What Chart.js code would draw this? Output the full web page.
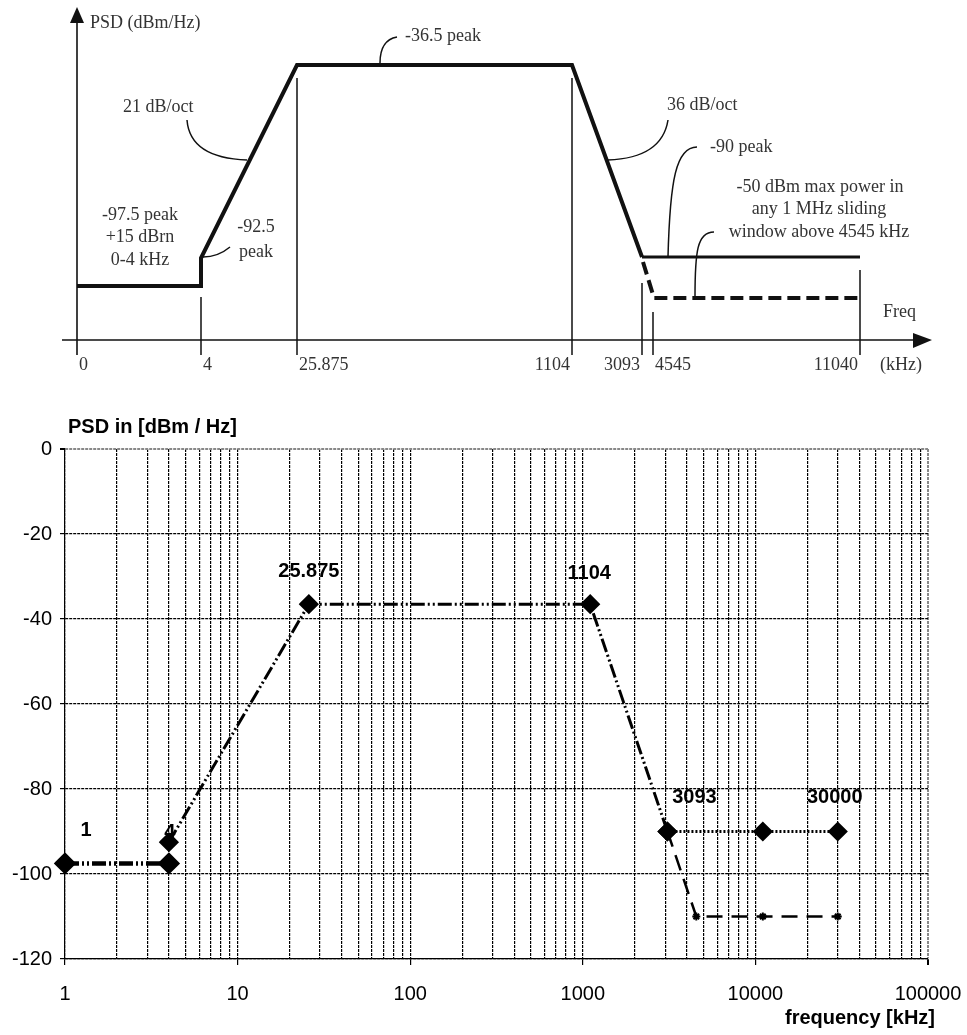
<!DOCTYPE html>
<html lang="en">
<head>
<meta charset="UTF-8">
<title>ADSL PSD mask</title>
<script src="https://cdn.jsdelivr.net/npm/chart.js"></script>
<style>
    body { margin: 0; background: #fff; }
    #sketch { position: absolute; left: 0; top: 0; }
    #psd { position: absolute; left: 0; top: 395px; }
</style>
</head>
<body>
<canvas id="sketch" width="967" height="390"></canvas>
<canvas id="psd" width="967" height="640"></canvas>
<script>
// upper sketch: schematic positions (not to scale)
const sketchTickLabels = ['0', '4', '25.875', '1104', '3093', '4545', '11040'];
const sketchTickPos = [0, 124, 220, 495, 565, 576, 783];
const sketchMaskX = [0, 124, 124, 220, 495, 565];
const sketchMaskY = [54, 54, 82, 275, 275, 83];
const sketchFlatX = [565, 783];
const sketchFlatY = [83, 83];
const sketchDashX = [566, 577, 783];
const sketchDashY = [78, 42, 42];
const sketchGuideX = [124, 220, 495, 565, 576, 783];
const sketchGuideTop = [43, 262, 262, 57, 28, 70];

// lower chart: frequency in kHz, PSD in dBm/Hz
const voiceX = [1, 4];
const voiceY = [-97.5, -97.5];
const bandX = [4, 25.875, 1104, 3093];
const bandY = [-92.5, -36.5, -36.5, -90];
const peakX = [3093, 11040, 30000];
const peakY = [-90, -90, -90];
const windowX = [3093, 4545, 11040, 30000];
const windowY = [-90, -110, -110, -110];
const labelText = ['1', '4', '25.875', '1104', '3093', '30000'];
const labelX = [1, 4, 25.875, 1104, 3093, 30000];
const labelY = [-97.5, -92.5, -36.5, -36.5, -90, -90];
const xTickLabels = [1, 10, 100, 1000, 10000, 100000];

// pixel nudges for the point labels
const labelShift = [[21, -33], [1, -10], [0, -33], [-1, -31], [27, -34], [-3, -34]];

function pts(xs, ys) {
    return xs.map((x, i) => ({ x: x, y: ys[i] }));
}

// ---------- upper sketch ----------
const guidePts = [];
sketchGuideX.forEach((x, i) => {
    guidePts.push({ x: x, y: sketchGuideTop[i] }, { x: x, y: -15 }, { x: x, y: null });
});

const serif = '18px "Liberation Serif", "DejaVu Serif", serif';

const sketchDecor = {
    id: 'sketchDecor',
    afterDatasetsDraw(chart) {
        const ctx = chart.ctx;
        const sx = v => chart.scales.x.getPixelForValue(v);
        const sy = v => chart.scales.y.getPixelForValue(v);
        ctx.save();
        ctx.strokeStyle = '#111';
        ctx.fillStyle = '#111';
        ctx.lineWidth = 1.6;

        // axes with arrows
        ctx.beginPath();
        ctx.moveTo(sx(0), sy(-15));
        ctx.lineTo(sx(0), sy(318));
        ctx.moveTo(sx(-15), sy(0));
        ctx.lineTo(sx(840), sy(0));
        ctx.stroke();
        ctx.beginPath();
        ctx.moveTo(sx(0) - 7, sy(317));
        ctx.lineTo(sx(0) + 7, sy(317));
        ctx.lineTo(sx(0), sy(333));
        ctx.closePath();
        ctx.fill();
        ctx.beginPath();
        ctx.moveTo(sx(836), sy(7));
        ctx.lineTo(sx(836), sy(-8));
        ctx.lineTo(sx(855), sy(0));
        ctx.closePath();
        ctx.fill();

        // leader curves
        ctx.lineWidth = 1.5;
        ctx.beginPath();
        ctx.moveTo(380, 63); ctx.quadraticCurveTo(380, 40, 397, 37);
        ctx.moveTo(187, 120); ctx.quadraticCurveTo(190, 158, 247, 160);
        ctx.moveTo(668, 120); ctx.quadraticCurveTo(662, 158, 608, 160);
        ctx.moveTo(697, 147); ctx.bezierCurveTo(676, 147, 670, 180, 668, 257);
        ctx.moveTo(714, 232); ctx.bezierCurveTo(697, 232, 695, 252, 695, 297);
        ctx.moveTo(230, 247); ctx.quadraticCurveTo(218, 257, 203, 257);
        ctx.stroke();

        // texts
        ctx.fillStyle = '#333';
        ctx.font = serif;
        ctx.textBaseline = 'middle';
        ctx.textAlign = 'left';
        ctx.fillText('PSD (dBm/Hz)', 90, 23);
        ctx.fillText('-36.5 peak', 405, 36);
        ctx.fillText('21 dB/oct', 123, 107);
        ctx.fillText('36 dB/oct', 667, 105);
        ctx.fillText('-90 peak', 710, 147);
        ctx.fillText('Freq', 883, 312);
        ctx.fillText('(kHz)', 880, 365);
        ctx.textAlign = 'center';
        ctx.fillText('-50 dBm max power in', 820, 187);
        ctx.fillText('any 1 MHz sliding', 819, 209);
        ctx.fillText('window above 4545 kHz', 819, 232);
        ctx.fillText('-97.5 peak', 140, 215);
        ctx.fillText('+15 dBrn', 140, 237);
        ctx.fillText('0-4 kHz', 140, 260);
        ctx.fillText('-92.5', 256, 227);
        ctx.fillText('peak', 256, 252);

        const align = ['left', 'left', 'left', 'right', 'right', 'left', 'right'];
        sketchTickLabels.forEach((t, i) => {
            ctx.textAlign = align[i];
            ctx.fillText(t, sx(sketchTickPos[i]) + (align[i] === 'left' ? 2 : -2), 365);
        });
        ctx.restore();
    }
};

new Chart(document.getElementById('sketch'), {
    type: 'line',
    data: {
        datasets: [
            { data: pts(sketchMaskX, sketchMaskY), borderColor: '#111', borderWidth: 4, pointRadius: 0 },
            { data: pts(sketchFlatX, sketchFlatY), borderColor: '#111', borderWidth: 3, pointRadius: 0 },
            { data: pts(sketchDashX, sketchDashY), borderColor: '#111', borderWidth: 4, borderDash: [13, 6], pointRadius: 0 },
            { data: guidePts, borderColor: '#111', borderWidth: 1.5, pointRadius: 0, spanGaps: false }
        ]
    },
    options: {
        responsive: false,
        animation: false,
        events: [],
        layout: { padding: { left: 57, right: 35, top: 15, bottom: 0 } },
        plugins: { legend: { display: false }, tooltip: { enabled: false } },
        scales: {
            x: { type: 'linear', min: -20, max: 855, display: false },
            y: { type: 'linear', min: -50, max: 325, display: false }
        }
    },
    plugins: [sketchDecor]
});

// ---------- lower PSD chart ----------
const dashDotDot = [14, 3, 2, 3, 2, 3];

const psdText = {
    id: 'psdText',
    afterDatasetsDraw(chart) {
        const ctx = chart.ctx;
        const xs = chart.scales.x, ys = chart.scales.y;
        ctx.save();
        ctx.fillStyle = '#000';
        ctx.font = 'bold 20px Arial, "Liberation Sans", sans-serif';
        ctx.textBaseline = 'middle';
        ctx.textAlign = 'center';
        labelText.forEach((t, i) => {
            const px = xs.getPixelForValue(labelX[i]) + labelShift[i][0];
            const py = ys.getPixelForValue(labelY[i]) + labelShift[i][1];
            ctx.fillText(t, px, py);
        });
        ctx.textAlign = 'left';
        ctx.fillText('PSD in [dBm / Hz]', 68, 32);
        ctx.textAlign = 'right';
        ctx.fillText('frequency [kHz]', 935, 623);
        ctx.restore();
    }
};

const diamond = {
    borderColor: '#000', pointStyle: 'rectRot', pointRadius: 8,
    pointBackgroundColor: '#000', pointBorderColor: '#000', clip: false
};

new Chart(document.getElementById('psd'), {
    type: 'line',
    data: {
        datasets: [
            Object.assign({ data: pts(voiceX, voiceY), borderWidth: 4.5, borderDash: dashDotDot }, diamond),
            Object.assign({ data: pts(bandX, bandY), borderWidth: 3, borderDash: dashDotDot }, diamond),
            Object.assign({ data: pts(peakX, peakY), borderWidth: 3, borderDash: [2, 2] }, diamond),
            {
                data: pts(windowX, windowY), borderColor: '#000', borderWidth: 2.5, borderDash: [16, 9],
                pointStyle: 'star', pointRadius: [0, 4, 4, 4], pointBorderWidth: 2, pointBorderColor: '#000', clip: false
            }
        ]
    },
    options: {
        responsive: false,
        animation: false,
        events: [],
        layout: { padding: { left: 0, right: 39, top: 54, bottom: 0 } },
        plugins: { legend: { display: false }, tooltip: { enabled: false } },
        scales: {
            x: {
                type: 'logarithmic',
                min: 1,
                max: 100000,
                afterBuildTicks: s => {
                    const t = [];
                    for (let e = 0; e < 5; e++) {
                        for (let m = 1; m < 10; m++) t.push({ value: m * Math.pow(10, e) });
                    }
                    t.push({ value: 100000 });
                    s.ticks = t;
                },
                afterFit: s => { s.height = 76; s.paddingLeft = 0; s.paddingRight = 0; },
                grid: {
                    color: c => (c.tick && c.tick.value === 100000 ? '#888' : '#000'),
                    tickColor: c => (c.tick && xTickLabels.includes(c.tick.value) ? '#000' : 'rgba(0,0,0,0)'),
                    lineWidth: c => (c.tick && c.tick.value === 100000 ? 2 : 1.2),
                    tickLength: 6,
                    borderDash: [3, 1]
                },
                border: { color: '#000', width: 1.2, dash: [3, 1] },
                ticks: {
                    autoSkip: false,
                    maxRotation: 0,
                    padding: 17,
                    color: '#000',
                    font: { family: 'Arial, "Liberation Sans", sans-serif', size: 20 },
                    callback: v => (xTickLabels.includes(v) ? String(v) : '')
                }
            },
            y: {
                type: 'linear',
                min: -120,
                max: 0,
                afterFit: s => { s.width = 65; s.paddingTop = 0; s.paddingBottom = 0; },
                grid: {
                    color: c => (c.tick && c.tick.value === 0 ? '#888' : '#000'),
                    tickColor: '#000',
                    lineWidth: c => (c.tick && c.tick.value === 0 ? 2 : 1.2),
                    tickLength: 5,
                    borderDash: [3, 1]
                },
                border: { color: '#000', width: 1.2, dash: [3, 1] },
                ticks: {
                    stepSize: 20,
                    padding: 8,
                    color: '#000',
                    font: { family: 'Arial, "Liberation Sans", sans-serif', size: 20 }
                }
            }
        }
    },
    plugins: [psdText]
});
</script>
</body>
</html>
